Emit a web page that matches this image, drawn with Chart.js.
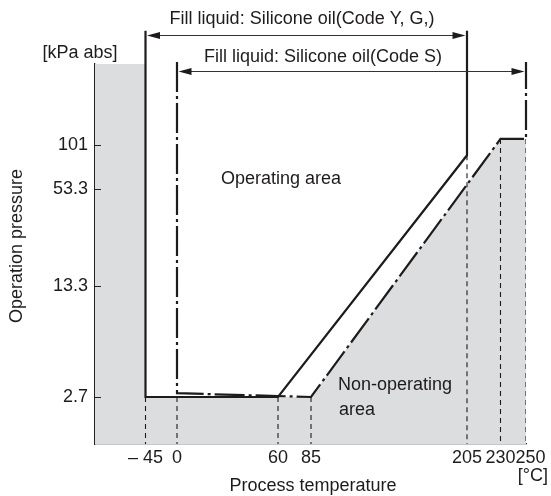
<!DOCTYPE html>
<html>
<head>
<meta charset="utf-8">
<script src="https://cdn.jsdelivr.net/npm/chart.js@4/dist/chart.umd.min.js"></script>
<style>
body { margin: 0; background: #fff; }
#wrap { width: 551px; height: 496px; position: relative; }
</style>
</head>
<body>
<div id="wrap"><canvas id="chart"></canvas></div>
<script>
// tick labels
const tempTicks = [-45, 0, 60, 85, 205, 230, 250];
const tempLabels = ['\u2013 45', '0', '60', '85', '205', '230', '\u2002250'];
const pressTicks = [2.7, 13.3, 53.3, 101];
const pressLabels = ['2.7', '13.3', '53.3', '101'];

// limit line, fill liquid Code Y, G (solid)
const ygTemp = [-45, -45, 60, 205, 205];
const ygPress = [520, 2.7, 2.7, 87, 520];

// limit line, fill liquid Code S (dash-dot)
const sTemp = [0, 0, 85, 230, 250, 250];
const sPress = [333, 2.85, 2.7, 110, 110, 333];

// dashed drop lines down to the axis
const dropTemp = [-45, 0, 60, 85, 205, 230, 250];
const dropPress = [2.7, 2.7, 2.7, 2.7, 87, 110, 110];

// arrows over the temperature ranges
const ygRange = [-45, 205];
const sRange = [0, 250];
const arrowPress = [491, 292];

const yMin = 1.374, yMax = 323;

// the temperature axis is not to scale in the drawing, so map it piecewise
const knotPos = [50.5, 82, 183, 216, 372, 405.5, 431];
function toAxis(t) {
    const k = tempTicks;
    let i = 0;
    while (i < k.length - 2 && t > k[i + 1]) i++;
    return knotPos[i] + (t - k[i]) * (knotPos[i + 1] - knotPos[i]) / (k[i + 1] - k[i]);
}
function pts(ts, ps) {
    return ts.map((t, i) => ({x: toAxis(t), y: ps[i]}));
}

// non-operating area: below both limit lines
const grayData = [{x: 0, y: yMax}, {x: toAxis(ygTemp[0]), y: yMax}]
    .concat(pts(ygTemp.slice(1, 3), ygPress.slice(1, 3)))
    .concat(pts(sTemp.slice(2, 5), sPress.slice(2, 5)));

let dropData = [];
dropTemp.forEach((t, i) => {
    dropData.push({x: toAxis(t), y: dropPress[i]});
    dropData.push({x: toAxis(t), y: yMin});
    dropData.push({x: toAxis(t), y: null});
});

const ink = '#1e1b1c';
const font = '18px "Liberation Sans", Arial, sans-serif';

const annotate = {
    id: 'annotate',
    afterDatasetsDraw(chart) {
        const {ctx, chartArea: a, scales: {x, y}} = chart;
        ctx.save();
        // inner tick marks
        ctx.strokeStyle = '#222';
        ctx.lineWidth = 1;
        pressTicks.forEach(v => {
            const py = Math.round(y.getPixelForValue(v)) + 0.5;
            ctx.beginPath();
            ctx.moveTo(a.left, py);
            ctx.lineTo(a.left + 6, py);
            ctx.stroke();
        });
        // range arrows
        [ygRange, sRange].forEach((r, i) => {
            const x1 = x.getPixelForValue(toAxis(r[0])) + 1.5;
            const x2 = x.getPixelForValue(toAxis(r[1])) - 1.5;
            const py = Math.round(y.getPixelForValue(arrowPress[i])) + 0.5;
            ctx.strokeStyle = '#333';
            ctx.fillStyle = ink;
            ctx.lineWidth = 1.2;
            ctx.beginPath();
            ctx.moveTo(x1 + 6, py);
            ctx.lineTo(x2 - 6, py);
            ctx.stroke();
            ctx.beginPath();
            ctx.moveTo(x1, py);
            ctx.lineTo(x1 + 13, py - 3.5);
            ctx.lineTo(x1 + 13, py + 3.5);
            ctx.closePath();
            ctx.fill();
            ctx.beginPath();
            ctx.moveTo(x2, py);
            ctx.lineTo(x2 - 13, py - 3.5);
            ctx.lineTo(x2 - 13, py + 3.5);
            ctx.closePath();
            ctx.fill();
        });
        // texts
        ctx.font = font;
        ctx.fillStyle = ink;
        ctx.textBaseline = 'middle';
        ctx.textAlign = 'center';
        ctx.fillText('Fill liquid: Silicone oil(Code Y, G,)', 302, 19.5);
        ctx.fillText('Fill liquid: Silicone oil(Code S)', 323, 57.5);
        ctx.fillText('[kPa abs]', 80, 53);
        ctx.fillText('Process temperature', 313, 486);
        ctx.textAlign = 'left';
        ctx.fillText('Operating area', 221, 179);
        ctx.fillText('Non-operating', 338, 385);
        ctx.fillText('area', 339, 410);
        ctx.textAlign = 'right';
        ctx.fillText('[\u00b0C]', 548, 476);
        ctx.translate(17, 246);
        ctx.rotate(-Math.PI / 2);
        ctx.textAlign = 'center';
        ctx.fillText('Operation pressure', 0, 0);
        ctx.restore();
    }
};

new Chart(document.getElementById('chart'), {
    type: 'line',
    data: {
        datasets: [{
            label: 'Code Y, G',
            data: pts(ygTemp, ygPress),
            borderColor: ink,
            borderWidth: 2.2,
            clip: false,
            order: 0
        }, {
            label: 'Code S',
            data: pts(sTemp, sPress),
            borderColor: ink,
            borderWidth: 2.2,
            borderDash: [30, 4, 3, 4],
            clip: false,
            order: 1
        }, {
            label: 'drop',
            data: dropData,
            borderColor: ink,
            borderWidth: 1.1,
            borderDash: [5, 4],
            spanGaps: false,
            order: 2
        }, {
            label: 'non-operating',
            data: grayData,
            borderWidth: 0,
            borderColor: 'rgba(0,0,0,0)',
            backgroundColor: '#dcdddf',
            fill: 'start',
            order: 10
        }]
    },
    options: {
        responsive: true,
        maintainAspectRatio: false,
        animation: false,
        layout: {padding: {left: 0, top: 64, right: 25, bottom: 0}},
        elements: {point: {radius: 0}, line: {tension: 0}},
        plugins: {legend: {display: false}, tooltip: {enabled: false}},
        scales: {
            x: {
                type: 'linear',
                min: 0,
                max: 431,
                grid: {display: false, drawTicks: false},
                border: {display: true, color: '#222', width: 1.2},
                afterFit: s => { s.height = 52; },
                afterBuildTicks: s => { s.ticks = tempTicks.map(t => ({value: toAxis(t)})); },
                ticks: {
                    autoSkip: false,
                    maxRotation: 0,
                    minRotation: 0,
                    padding: 3,
                    color: ink,
                    font: {family: '"Liberation Sans", Arial, sans-serif', size: 18},
                    callback: (v, i) => tempLabels[i]
                }
            },
            y: {
                type: 'logarithmic',
                min: yMin,
                max: yMax,
                grid: {display: false, drawTicks: false},
                border: {display: true, color: '#222', width: 1.2},
                afterFit: s => { s.width = 95; },
                afterBuildTicks: s => { s.ticks = pressTicks.map(v => ({value: v})); },
                ticks: {
                    autoSkip: false,
                    padding: 7,
                    color: ink,
                    font: {family: '"Liberation Sans", Arial, sans-serif', size: 18},
                    callback: (v, i) => pressLabels[i]
                }
            }
        }
    },
    plugins: [annotate]
});
</script>
</body>
</html>
